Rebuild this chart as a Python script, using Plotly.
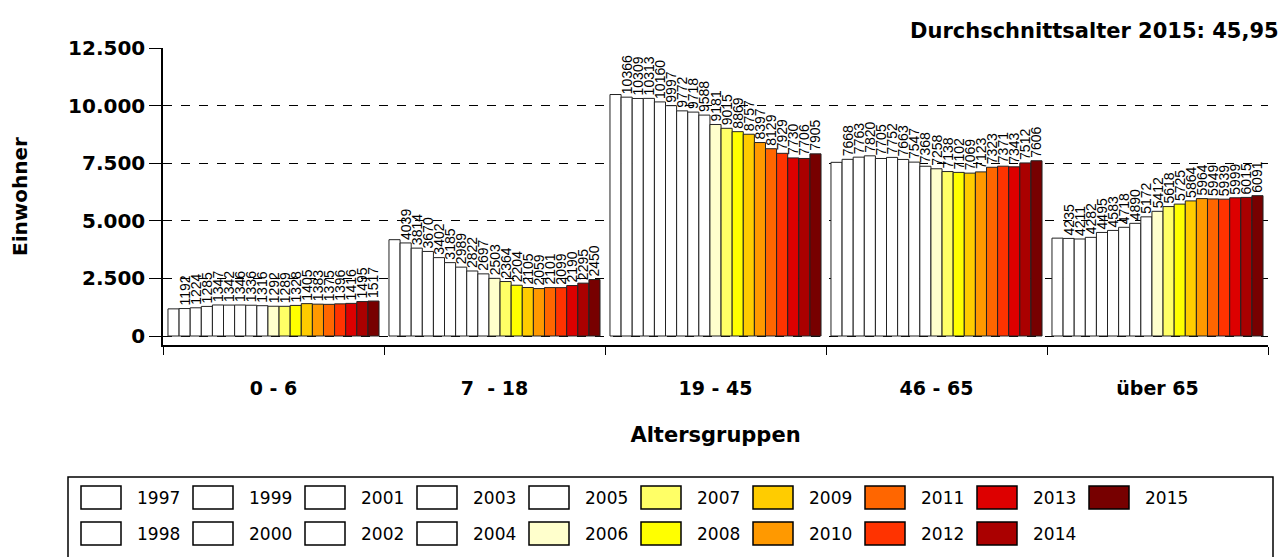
import plotly.graph_objects as go

years = [1997, 1998, 1999, 2000, 2001, 2002, 2003, 2004, 2005, 2006,
         2007, 2008, 2009, 2010, 2011, 2012, 2013, 2014, 2015]
age_groups = ["0 - 6", "7  - 18", "19 - 45", "46 - 65", "über 65"]

v_0_6 = [1178, 1192, 1224, 1285, 1347, 1342, 1346, 1336, 1316, 1292,
         1289, 1328, 1405, 1383, 1375, 1396, 1416, 1495, 1517]
v_7_18 = [4181, 4039, 3814, 3670, 3402, 3185, 2989, 2822, 2697, 2503,
          2364, 2204, 2105, 2059, 2101, 2099, 2190, 2295, 2450]
v_19_45 = [10481, 10366, 10309, 10313, 10160, 9997, 9772, 9718, 9588, 9181,
           9015, 8869, 8757, 8397, 8129, 7929, 7730, 7706, 7905]
v_46_65 = [7538, 7668, 7763, 7820, 7705, 7752, 7663, 7547, 7368, 7258,
           7138, 7102, 7069, 7123, 7323, 7371, 7343, 7512, 7606]
v_over65 = [4248, 4235, 4211, 4282, 4495, 4583, 4718, 4890, 5172, 5412,
            5618, 5725, 5864, 5964, 5949, 5939, 5999, 6015, 6091]

y_ticks = [0, 2500, 5000, 7500, 10000, 12500]
title_text = "Durchschnittsalter 2015: 45,95"

year_colors = ["#FFFFFF"] * 9 + ["#FFFFCC", "#FFFF66", "#FFFF00", "#FFCC00", "#FF9900",
                                 "#FF6600", "#FF3300", "#DD0000", "#AA0000", "#770000"]

series = [v_0_6, v_7_18, v_19_45, v_46_65, v_over65]

fig = go.Figure()
for i, yr in enumerate(years):
    vals = [s[i] for s in series]
    fig.add_trace(go.Bar(
        x=age_groups, y=vals, name=str(yr),
        marker=dict(color=year_colors[i], line=dict(color="#222222", width=1)),
        text=[str(v) for v in vals] if yr != 1997 else None,
        textposition="outside", textangle=-90, constraintext="none",
        cliponaxis=False,
        textfont=dict(family="Liberation Sans", size=14, color="black"),
        showlegend=False,
    ))

# plot area geometry in pixels
L, R, T, B = 163, 1268, 48, 345
W, H = R - L, B - T


def px_x(p):
    return (p - L) / W


def px_y(p):
    return (B - p) / H


shapes = []
annotations = []
# legend box
shapes.append(dict(type="rect", xref="paper", yref="paper",
                   x0=px_x(68), x1=px_x(1273), y0=px_y(562), y1=px_y(477),
                   line=dict(color="black", width=1.5), fillcolor="white", layer="above"))
for i, yr in enumerate(years):
    col, row = i // 2, i % 2
    sx = 81 + 112 * col
    sy = 486 if row == 0 else 522
    shapes.append(dict(type="rect", xref="paper", yref="paper",
                       x0=px_x(sx), x1=px_x(sx + 40), y0=px_y(sy + 23), y1=px_y(sy),
                       line=dict(color="black", width=1.5), fillcolor=year_colors[i], layer="above"))
    annotations.append(dict(xref="paper", yref="paper", x=px_x(sx + 54), y=px_y(sy + 12),
                            text=str(yr), showarrow=False, xanchor="left", yanchor="middle",
                            font=dict(family="DejaVu Sans", size=17, color="black")))

annotations.append(dict(xref="paper", yref="paper", x=px_x(1281), y=px_y(31),
                        text=title_text, showarrow=False, xanchor="right", yanchor="middle",
                        font=dict(family="DejaVu Sans", size=21, color="black", weight="bold")))

fig.update_layout(
    width=1282, height=557,
    margin=dict(l=L, r=1282 - R, t=T, b=557 - B, autoexpand=False),
    paper_bgcolor="white", plot_bgcolor="white",
    barmode="group", bargap=0.045, bargroupgap=0,
    separators=",.",
    shapes=shapes, annotations=annotations,
    showlegend=False,
    font=dict(family="DejaVu Sans", color="black"),
)
fig.update_xaxes(
    type="category", showline=True, linecolor="black", linewidth=1.5,
    ticks="outside", ticklen=8, tickcolor="black", tickson="boundaries",
    ticklabelstandoff=25,
    tickfont=dict(family="DejaVu Sans", size=19, color="black", weight="bold"),
    title=dict(text="Altersgruppen", standoff=30,
               font=dict(family="DejaVu Sans", size=21, color="black", weight="bold")),
    showgrid=False,
)
fig.update_yaxes(
    range=[-390, 12500], tickvals=y_ticks, tickformat=",d",
    showline=True, linecolor="black", linewidth=1.5,
    ticks="outside", ticklen=12, tickcolor="black",
    showgrid=True, gridcolor="black", griddash="dash", gridwidth=1,
    zeroline=False,
    tickfont=dict(family="DejaVu Sans", size=20, color="black", weight="bold"),
    title=dict(text="Einwohner", standoff=35,
               font=dict(family="DejaVu Sans", size=20, color="black", weight="bold")),
)

fig.write_html("out.html", config={"displayModeBar": False},
               post_script="document.body.style.margin='0';")
